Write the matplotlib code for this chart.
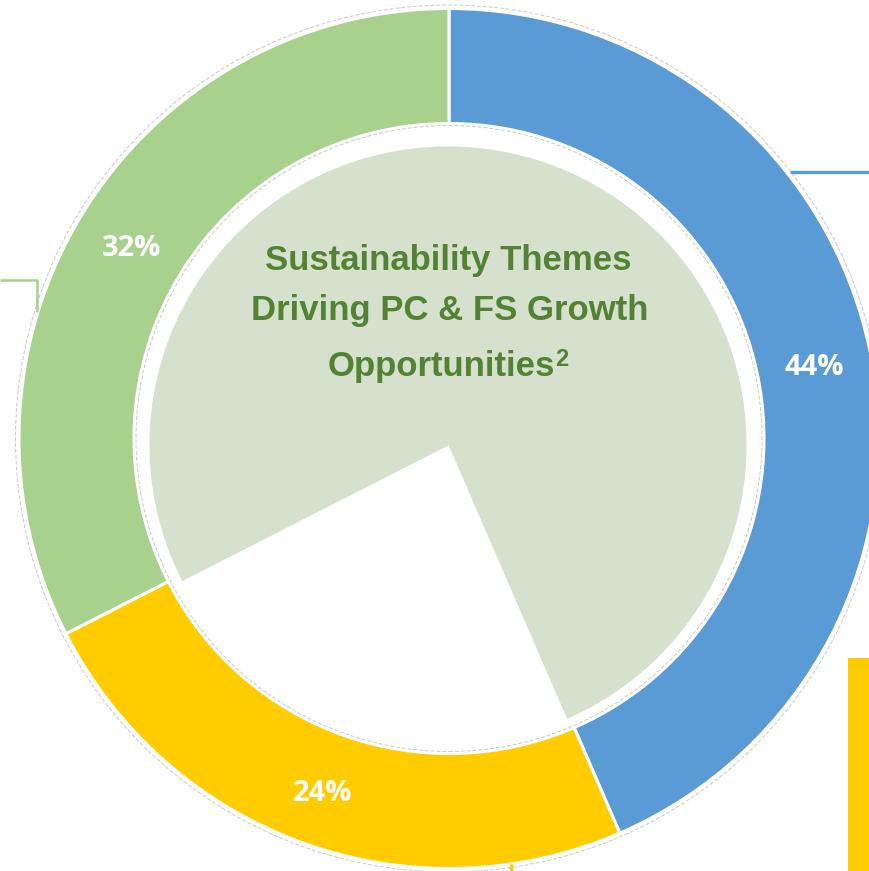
import matplotlib
matplotlib.use("Agg")
import matplotlib.pyplot as plt
from matplotlib import font_manager
from matplotlib.patches import Circle, Rectangle

# ---- data ----
categories = ["Theme A", "Theme B", "Theme C"]
shares = [43.5, 24.0, 32.5]
share_labels = ["44%", "24%", "32%"]
ring_colors = ["#5B9BD5", "#FFCC00", "#A9D18E"]
title_lines = ["Sustainability Themes", "Driving PC & FS Growth", "Opportunities"]
title_sup = "2"

W, H = 869, 871
fig = plt.figure(figsize=(W / 100, H / 100), dpi=100)
ax = fig.add_axes([0, 0, 1, 1])

def py(y):  # pixel-from-top to data y
    return H - y

names = {f.name for f in font_manager.fontManager.ttflist}
if "Liberation Sans Narrow" in names:
    tfam, tsize, ssize = "Liberation Sans Narrow", 30, 18
else:
    tfam, tsize, ssize = "Liberation Sans", 25, 17
lfam = "Open Sans" if "Open Sans" in names else "DejaVu Sans"

cx, cy = 449, py(438.5)
R_out, R_in = 430, 315

# outer ring
lab_iter = iter(share_labels)
wedges, texts, autotexts = ax.pie(
    shares, colors=ring_colors, startangle=90, counterclock=False,
    radius=R_out, center=(cx, cy),
    wedgeprops=dict(width=R_out - R_in, edgecolor="white", linewidth=2.2),
    autopct=lambda p: next(lab_iter), pctdistance=((R_out + R_in) / 2) / R_out,
    textprops=dict(color="white", fontsize=21, fontweight="bold", family=lfam),
)
for t in autotexts:
    t.set_y(t.get_position()[1] - 5)

# inner pie (white wedge for the second share)
inner_fill = "#D5E0CD"
iw, _ = ax.pie(
    shares, colors=[inner_fill, "white", inner_fill], startangle=90,
    counterclock=False, radius=298, center=(448, py(445)),
    wedgeprops=dict(linewidth=0.8),
)
for w in iw:
    w.set_edgecolor(w.get_facecolor())

# faint dashed outlines around the ring
for r in (433.5, 313):
    ax.add_patch(Circle((cx, cy), r, fill=False, edgecolor="#C8C8C8",
                        linewidth=0.7, linestyle=(0, (4, 2))))

# cropped connector fragments
ax.plot([0, 37, 37], [py(280), py(280), py(312)], color="#A9D18E", lw=1.8,
        solid_capstyle="butt")
ax.plot([790, W], [py(172), py(172)], color="#5B9BD5", lw=2.4,
        solid_capstyle="butt")
ax.add_patch(Rectangle((848, 0), 30, py(658), color="#FFCC00", lw=0))
ax.plot([511, 511], [py(864), 0], color="#FFCC00", lw=2.4,
        solid_capstyle="butt")

# title
tc = "#548235"
ax.text(448, py(270), title_lines[0], ha="center", va="baseline",
        color=tc, fontsize=tsize, fontweight="bold", family=tfam)
ax.text(450, py(320), title_lines[1], ha="center", va="baseline",
        color=tc, fontsize=tsize, fontweight="bold", family=tfam)
t3 = ax.text(441, py(376), title_lines[2], ha="center", va="baseline",
             color=tc, fontsize=tsize, fontweight="bold", family=tfam)
ax.annotate(title_sup, xy=(1.0, 0.0), xycoords=t3, xytext=(0, 17),
            textcoords="offset pixels", ha="left", va="baseline",
            color=tc, fontsize=ssize, fontweight="bold", family=tfam)

ax.set_xlim(0, W)
ax.set_ylim(0, H)
ax.set_aspect("auto")
ax.axis("off")
fig.savefig("out.png", dpi=100, facecolor="white")
